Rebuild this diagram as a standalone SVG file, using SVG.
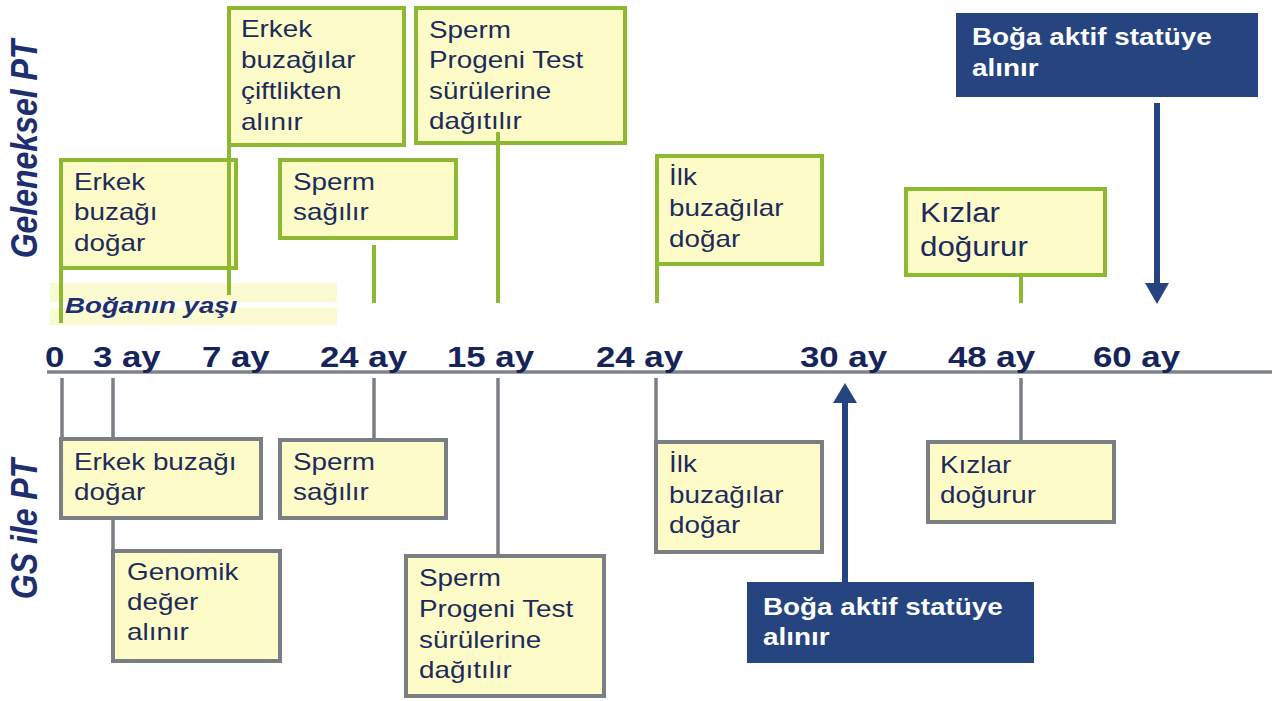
<svg xmlns="http://www.w3.org/2000/svg" width="1285" height="701" viewBox="0 0 1285 701">
<style>
.g{fill:#fdfcc9;stroke:#8cb832;stroke-width:4}
.gr{fill:#fdfcc9;stroke:#7b7e85;stroke-width:4}
.gl{stroke:#8cb832;stroke-width:4;fill:none}
.grl{stroke:#7b7e85;stroke-width:3.5;fill:none}
.nv{fill:#254480}
.t{font-family:"Liberation Sans",Arial,sans-serif;font-size:24px;fill:#1d2b5c}
.w{font-family:"Liberation Sans",Arial,sans-serif;font-size:24px;font-weight:bold;fill:#ffffff}
.ax{font-family:"Liberation Sans",Arial,sans-serif;font-size:30px;font-weight:bold;fill:#15245a}
.lab{font-family:"Liberation Sans",Arial,sans-serif;font-size:32px;font-weight:bold;font-style:italic;fill:#1d2f6e}
.arr{stroke:#254480;stroke-width:6;fill:none}
</style>
<rect width="1285" height="701" fill="#ffffff"/>
<g id="band">
<rect x="50" y="283" width="287" height="19" fill="#fbfbd2"/>
<rect x="50" y="308" width="287" height="17" fill="#fbfbd2"/>
<text class="lab" style="font-size:22px" transform="translate(65,313) scale(1.26,1)">Boğanın yaşı</text>
</g>
<g id="labels">
<text class="lab" text-anchor="middle" transform="translate(24,149) scale(1.16,1) rotate(-90)" y="11.5">Geleneksel PT</text>
<text class="lab" text-anchor="middle" transform="translate(24,529) scale(1.16,1) rotate(-90)" y="11.5">GS ile PT</text>
</g>
<g id="axis">
<line x1="47" y1="372" x2="1272" y2="372" stroke="#7e838c" stroke-width="3.5"/>
<text class="ax" transform="translate(45,367) scale(1.16,1)">0</text>
<text class="ax" transform="translate(93,367) scale(1.16,1)">3 ay</text>
<text class="ax" transform="translate(202,367) scale(1.16,1)">7 ay</text>
<text class="ax" transform="translate(320,367) scale(1.16,1)">24 ay</text>
<text class="ax" transform="translate(447,367) scale(1.16,1)">15 ay</text>
<text class="ax" transform="translate(596,367) scale(1.16,1)">24 ay</text>
<text class="ax" transform="translate(800,367) scale(1.16,1)">30 ay</text>
<text class="ax" transform="translate(948,367) scale(1.16,1)">48 ay</text>
<text class="ax" transform="translate(1093,367) scale(1.16,1)">60 ay</text>
</g>
<g id="top-a">
<rect class="g" x="61" y="160" width="175" height="108"/>
<text class="t" transform="translate(74,190) scale(1.16,1)"><tspan x="0" y="0">Erkek</tspan><tspan x="0" y="30.5">buzağı</tspan><tspan x="0" y="61">doğar</tspan></text>
</g>
<g id="top-b">
<rect class="g" x="229" y="8" width="175" height="137"/>
<text class="t" transform="translate(241,37) scale(1.16,1)"><tspan x="0" y="0">Erkek</tspan><tspan x="0" y="31">buzağılar</tspan><tspan x="0" y="62">çiftlikten</tspan><tspan x="0" y="93">alınır</tspan></text>
</g>
<g id="top-c">
<rect class="g" x="280" y="160" width="176" height="78"/>
<text class="t" transform="translate(293,190) scale(1.16,1)"><tspan x="0" y="0">Sperm</tspan><tspan x="0" y="30">sağılır</tspan></text>
</g>
<g id="top-d">
<rect class="g" x="416" y="8" width="209" height="135"/>
<text class="t" transform="translate(429,38) scale(1.16,1)"><tspan x="0" y="0">Sperm</tspan><tspan x="0" y="30.5">Progeni Test</tspan><tspan x="0" y="61">sürülerine</tspan><tspan x="0" y="91.5">dağıtılır</tspan></text>
</g>
<g id="top-e">
<rect class="g" x="657" y="156" width="165" height="108"/>
<text class="t" transform="translate(669,185) scale(1.16,1)"><tspan x="0" y="0">İlk</tspan><tspan x="0" y="31">buzağılar</tspan><tspan x="0" y="62">doğar</tspan></text>
</g>
<g id="top-f">
<rect class="g" x="906" y="189" width="199" height="86"/>
<text class="t" style="font-size:27px" transform="translate(920,222) scale(1.16,1)"><tspan x="0" y="0">Kızlar</tspan><tspan x="0" y="34">doğurur</tspan></text>
</g>
<g id="top-g">
<rect class="nv" x="956" y="13" width="302" height="84"/>
<text class="w" transform="translate(972,45) scale(1.16,1)"><tspan x="0" y="0">Boğa aktif statüye</tspan><tspan x="0" y="31">alınır</tspan></text>
</g>
<g id="bot-h">
<rect class="gr" x="61" y="439" width="200" height="79"/>
<text class="t" transform="translate(74,470) scale(1.16,1)"><tspan x="0" y="0">Erkek buzağı</tspan><tspan x="0" y="30">doğar</tspan></text>
</g>
<g id="bot-i">
<rect class="gr" x="113" y="551" width="167" height="110"/>
<text class="t" transform="translate(127,580) scale(1.16,1)"><tspan x="0" y="0">Genomik</tspan><tspan x="0" y="30">değer</tspan><tspan x="0" y="60">alınır</tspan></text>
</g>
<g id="bot-j">
<rect class="gr" x="280" y="440" width="166" height="78"/>
<text class="t" transform="translate(293,470) scale(1.16,1)"><tspan x="0" y="0">Sperm</tspan><tspan x="0" y="30">sağılır</tspan></text>
</g>
<g id="bot-k">
<rect class="gr" x="406" y="556" width="198" height="140"/>
<text class="t" transform="translate(419,586) scale(1.16,1)"><tspan x="0" y="0">Sperm</tspan><tspan x="0" y="31">Progeni Test</tspan><tspan x="0" y="62">sürülerine</tspan><tspan x="0" y="92">dağıtılır</tspan></text>
</g>
<g id="bot-l">
<rect class="gr" x="656" y="442" width="166" height="110"/>
<text class="t" transform="translate(669,472) scale(1.16,1)"><tspan x="0" y="0">İlk</tspan><tspan x="0" y="31">buzağılar</tspan><tspan x="0" y="61">doğar</tspan></text>
</g>
<g id="bot-m">
<rect class="gr" x="928" y="442" width="186" height="80"/>
<text class="t" transform="translate(940,473) scale(1.16,1)"><tspan x="0" y="0">Kızlar</tspan><tspan x="0" y="30">doğurur</tspan></text>
</g>
<g id="bot-n">
<rect class="nv" x="747" y="582" width="287" height="81"/>
<text class="w" transform="translate(763,615) scale(1.16,1)"><tspan x="0" y="0">Boğa aktif statüye</tspan><tspan x="0" y="30">alınır</tspan></text>
</g>
<g id="connectors">
<line class="gl" x1="61" y1="268" x2="61" y2="323"/>
<line class="gl" x1="229" y1="145" x2="229" y2="295"/>
<line class="gl" x1="374" y1="245" x2="374" y2="303"/>
<line class="gl" x1="498" y1="132" x2="498" y2="303"/>
<line class="gl" x1="657" y1="264" x2="657" y2="303"/>
<line class="gl" x1="1021" y1="275" x2="1021" y2="303"/>
<line class="grl" x1="62" y1="378" x2="62" y2="439"/>
<line class="grl" x1="113" y1="378" x2="113" y2="439"/>
<line class="grl" x1="113" y1="518" x2="113" y2="551"/>
<line class="grl" x1="374" y1="378" x2="374" y2="440"/>
<line class="grl" x1="498" y1="378" x2="498" y2="556"/>
<line class="grl" x1="656" y1="378" x2="656" y2="442"/>
<line class="grl" x1="1021" y1="378" x2="1021" y2="442"/>
<line class="arr" x1="1157" y1="103" x2="1157" y2="286"/>
<polygon points="1145,283 1169,283 1157,304" fill="#254480"/>
<line class="arr" x1="845" y1="582" x2="845" y2="400"/>
<polygon points="833,403 857,403 845,383" fill="#254480"/>
</g>
</svg>
